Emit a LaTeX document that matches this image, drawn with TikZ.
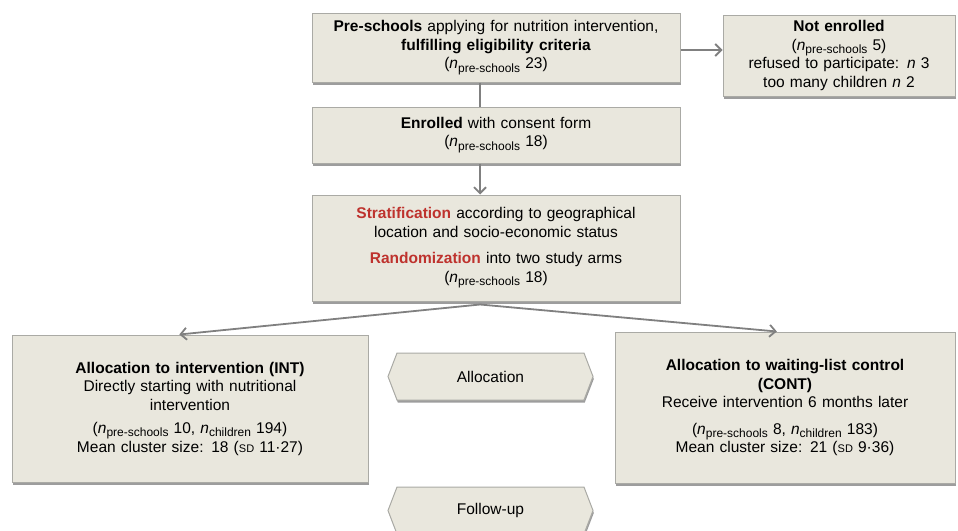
\documentclass[tikz,border=0pt]{standalone}
\usepackage{fontspec}
\setmainfont{Liberation Sans}
\usetikzlibrary{shapes.symbols, arrows.meta, positioning, calc, shadows}
\definecolor{flowfill}{RGB}{233,231,221}
\definecolor{flowline}{RGB}{170,170,165}
\definecolor{flowarrow}{RGB}{128,128,128}
\definecolor{flowred}{RGB}{190,50,45}
\newcommand{\nsub}[1]{\textit{n}\raisebox{-0.4ex}{\fontsize{12}{12}\selectfont #1}}
\newcommand{\sdtext}{{\fontsize{11}{11}\selectfont SD}}

\begin{document}
\begin{tikzpicture}[x=1pt, y=-1pt,
  flowbox/.style={draw=flowline, fill=flowfill, line width=1pt, align=center,
    inner sep=4pt, font=\fontsize{15.5}{18.5}\selectfont,
    drop shadow={shadow xshift=0.8pt, shadow yshift=-2.5pt, fill=black!55, opacity=0.7}},
  phasebox/.style={signal, signal to=west and east, signal pointer angle=138,
    draw=flowline, fill=flowfill, line width=1pt, minimum width=205pt, minimum height=47pt,
    font=\fontsize{15.5}{18.5}\selectfont,
    drop shadow={shadow xshift=0.8pt, shadow yshift=-2.5pt, fill=black!55, opacity=0.7}},
  flowarr/.style={draw=flowarrow, line width=1.8pt, -{Straight Barb[length=6pt, width=12pt]}}]
\useasboundingbox (0,0) rectangle (958,530);

% Screening and enrolment
\node[flowbox, text width=360pt, minimum height=69pt] (screen) at (496,47.5)
  {\textbf{Pre-schools} applying for nutrition intervention,\\
   \textbf{fulfilling eligibility criteria}\\
   (\nsub{pre-schools} 23)};
\node[flowbox, text width=224pt, minimum height=81pt] (notenr) at (839,55.5)
  {\textbf{Not enrolled}\\
   (\nsub{pre-schools} 5)\\
   refused to participate: \textit{n} 3\\
   too many children \textit{n} 2};
\node[flowbox, text width=360pt, minimum height=56pt] (enrol) at (496,135)
  {\textbf{Enrolled} with consent form\\
   (\nsub{pre-schools} 18)};
\node[flowbox, text width=360pt, minimum height=106pt] (strat) at (496,248)
  {\textbf{\color{flowred}Stratification} according to geographical\\
   location and socio-economic status\\[8pt]
   \textbf{\color{flowred}Randomization} into two study arms\\
   (\nsub{pre-schools} 18)};

% Study arms
\node[flowbox, text width=348pt, minimum height=147pt] (intarm) at (190,408.5)
  {\textbf{Allocation to intervention (INT)}\\
   Directly starting with nutritional\\
   intervention\\[5pt]
   (\nsub{pre-schools} 10, \nsub{children} 194)\\
   Mean cluster size: 18 (\sdtext{} 11·27)};
\node[flowbox, text width=332pt, minimum height=151pt] (contarm) at (785,407.5)
  {\textbf{Allocation to waiting-list control}\\
   \textbf{(CONT)}\\
   Receive intervention 6 months later\\[8pt]
   (\nsub{pre-schools} 8, \nsub{children} 183)\\
   Mean cluster size: 21 (\sdtext{} 9·36)};

% Phases
\node[phasebox] (alloc) at (490.5,376.5) {Allocation};
\node[phasebox] (follow) at (490.5,510.5) {Follow-up};

% Connectors
\coordinate (spine) at (480,0);
\draw[draw=flowarrow, line width=1.8pt] (screen.south -| spine) -- (enrol.north -| spine);
\draw[flowarr] (screen.east |- 0,50) -- (notenr.west |- 0,50);
\draw[flowarr] (enrol.south -| spine) -- (strat.north -| spine);
\coordinate (split) at ($(strat.south -| spine)+(0,3)$);
\draw[flowarr] (split) -- ($(intarm.north west)!0.47!(intarm.north east)$);
\draw[flowarr] (split) -- ($(contarm.north west)!0.476!(contarm.north east)$);
\end{tikzpicture}
\end{document}
